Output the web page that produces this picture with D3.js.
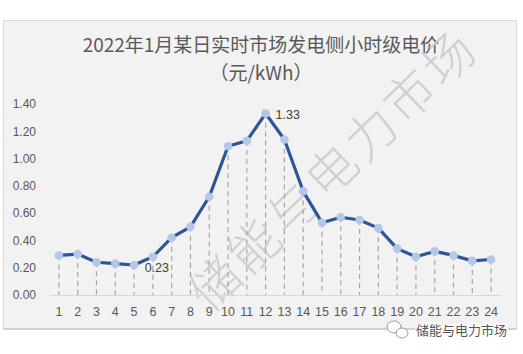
<!DOCTYPE html>
<html><head><meta charset="utf-8">
<script src="https://cdn.jsdelivr.net/npm/d3@7"></script>
<style>body{margin:0;background:#fff;}svg{display:block;}</style>
</head><body>
<svg id="c" width="523" height="354"></svg>
<script>
const hours = ["1","2","3","4","5","6","7","8","9","10","11","12","13","14","15","16","17","18","19","20","21","22","23","24"];
const prices = [0.29,0.30,0.24,0.23,0.22,0.28,0.42,0.50,0.72,1.09,1.13,1.33,1.14,0.76,0.53,0.57,0.55,0.49,0.34,0.28,0.32,0.29,0.25,0.26];
const yTicks = [0,0.2,0.4,0.6,0.8,1.0,1.2,1.4];
const titleLines = ["2022年1月某日实时市场发电侧小时级电价","（元/kWh）"];
const labels = [{hour:"12", text:"1.33", side:"right"},{hour:"6", text:"0.23", side:"below"}];
const watermark = "储能与电力市场";
const footer = "储能与电力市场";

const svg = d3.select("#c");
const font = "'Noto Sans CJK SC','Noto Sans',sans-serif";
// chart box
svg.append("rect").attr("x",3.5).attr("y",20.5).attr("width",513).attr("height",309)
  .attr("fill","#f2f2f2").attr("stroke","#d9d9d9").attr("stroke-width",1);
svg.append("line").attr("x1",3).attr("x2",517).attr("y1",329).attr("y2",329).attr("stroke","#d0d0d0").attr("stroke-width",2);

const x = d3.scaleBand().domain(hours).range([49.5,500.5]);
const y = d3.scaleLinear().domain([0,1.4]).range([295,104]);

// title
svg.append("g").selectAll("text").data(titleLines).join("text")
  .attr("x",261).attr("y",(d,i)=>52+i*28).attr("text-anchor","middle")
  .attr("font-family",font).attr("font-size",19).attr("fill","#595959").text(d=>d);

// watermark
svg.append("text").attr("transform","translate(210,314) rotate(-44)")
  .attr("font-family",font).attr("font-size",50).attr("font-weight",200)
  .attr("fill","#cacaca").attr("fill-opacity",0.85)
  .attr("letter-spacing",4).text(watermark);

// y axis labels
const ya = svg.append("g").attr("transform","translate(36,0)")
  .call(d3.axisLeft(y).tickValues(yTicks).tickFormat(d3.format(".2f")).tickSize(0).tickPadding(0));
ya.select(".domain").remove();
ya.selectAll("text").attr("font-family","'Liberation Sans','Open Sans',sans-serif").attr("font-size",12).attr("fill","#595959");

// x axis
const xa = svg.append("g").attr("transform","translate(0,295)")
  .call(d3.axisBottom(x).tickSize(0).tickPadding(12));
xa.select(".domain").attr("stroke","#d9d9d9").attr("stroke-width",1);
xa.selectAll("text").attr("font-family","'Liberation Sans','Open Sans',sans-serif").attr("font-size",12.5).attr("fill","#595959");

const cx = d=>x(d)+x.bandwidth()/2;
// drop lines
svg.append("g").selectAll("line").data(hours).join("line")
  .attr("x1",d=>cx(d)).attr("x2",d=>cx(d))
  .attr("y1",(d,i)=>y(prices[i])).attr("y2",y(0))
  .attr("stroke","#a6a6a6").attr("stroke-width",1.2).attr("stroke-dasharray","5,4");

// line
const line = d3.line().x((d,i)=>cx(hours[i])).y(d=>y(d));
svg.append("path").datum(prices).attr("d",line).attr("fill","none")
  .attr("stroke","#2f5597").attr("stroke-width",3.2).attr("stroke-linejoin","round");
svg.append("g").selectAll("circle").data(prices).join("circle")
  .attr("cx",(d,i)=>cx(hours[i])).attr("cy",d=>y(d)).attr("r",4.3)
  .attr("fill","#b4c7e7");

// data labels
svg.append("g").selectAll("text").data(labels).join("text")
  .attr("x",d=>cx(d.hour)+(d.side==="right"?10:4))
  .attr("y",d=>{const v=prices[hours.indexOf(d.hour)];return d.side==="right"?y(v)+5:y(v)+15;})
  .attr("text-anchor",d=>d.side==="right"?"start":"middle")
  .attr("font-family","'Liberation Sans','Open Sans',sans-serif").attr("font-size",12.5).attr("fill","#404040")
  .text(d=>d.text);

// footer watermark
const f = svg.append("g");
f.append("ellipse").attr("cx",394).attr("cy",327).attr("rx",7).attr("ry",6).attr("fill","#fff").attr("stroke","#9a9a9a").attr("stroke-width",1);
f.append("ellipse").attr("cx",402).attr("cy",333).attr("rx",6).attr("ry",5).attr("fill","#fff").attr("stroke","#9a9a9a").attr("stroke-width",1);
f.append("text").attr("x",416).attr("y",335).attr("font-family",font).attr("font-size",13)
  .attr("fill","#555").attr("stroke","#fff").attr("stroke-width",3).attr("paint-order","stroke").text(footer);
</script>
</body></html>
